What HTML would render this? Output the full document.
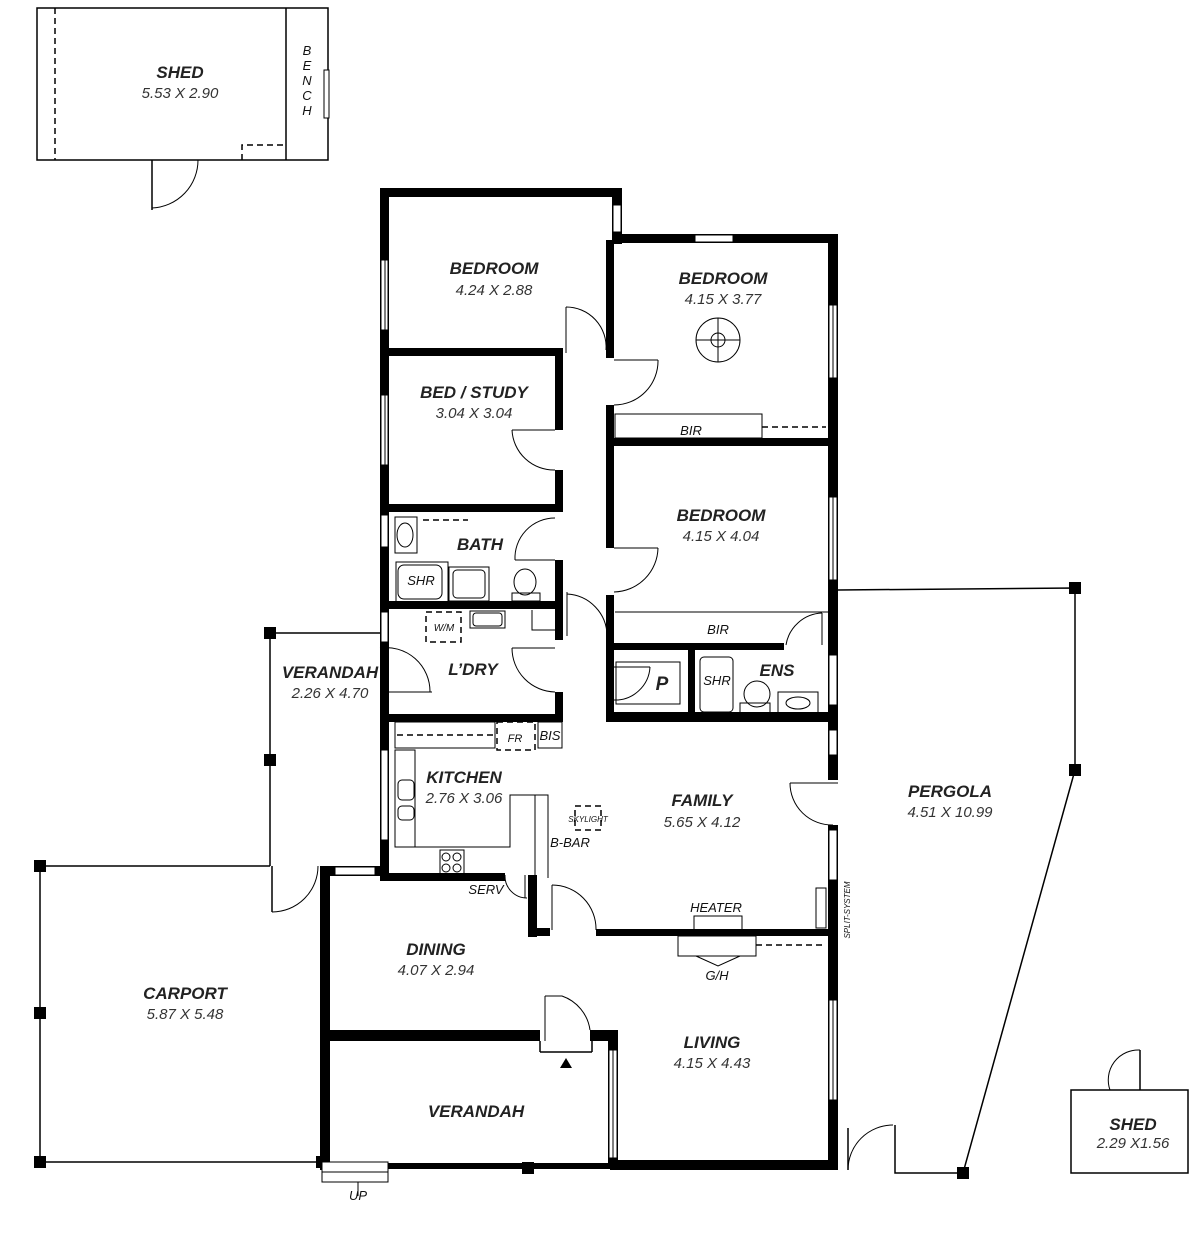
<!DOCTYPE html>
<html><head><meta charset="utf-8"><style>
html,body{margin:0;padding:0;background:#fff;}
svg{display:block}
.t{font-family:"Liberation Sans",sans-serif;font-weight:bold;font-style:italic;font-size:17px;fill:#222;text-anchor:middle}
.d{font-family:"Liberation Sans",sans-serif;font-style:italic;font-size:15px;fill:#333;text-anchor:middle}
.s{font-family:"Liberation Sans",sans-serif;font-style:italic;font-size:13px;fill:#111;text-anchor:middle}
.w{fill:#000}
.win{fill:#fff;stroke:#000;stroke-width:1}
.ln{stroke:#000;stroke-width:1.5;fill:none}
.th{stroke:#000;stroke-width:1;fill:none}
.ds{stroke:#000;stroke-width:1.5;fill:none;stroke-dasharray:6 4}
</style></head><body>
<svg width="1200" height="1241" viewBox="0 0 1200 1241" xmlns="http://www.w3.org/2000/svg">
<!-- SHED top -->
<rect x="37" y="8" width="291" height="152" class="ln" stroke-width="2"/>
<line x1="55" y1="8" x2="55" y2="160" class="ds"/>
<line x1="286" y1="8" x2="286" y2="160" class="ln"/>
<rect x="324" y="70" width="5" height="48" class="win"/>
<polyline points="242,160 242,145 286,145" class="ds"/>
<line x1="152" y1="160" x2="152" y2="210" class="ln"/>
<path d="M152,208 A48,48 0 0 0 198,160" class="th"/>
<text class="t" x="180" y="78">SHED</text>
<text class="d" x="180" y="98">5.53 X 2.90</text>
<text class="s" x="307" y="55">B</text><text class="s" x="307" y="70">E</text><text class="s" x="307" y="85">N</text><text class="s" x="307" y="100">C</text><text class="s" x="307" y="115">H</text>

<!-- outdoor lines -->
<polyline points="40,866 40,1162 322,1162" class="ln"/>
<line x1="40" y1="866" x2="270" y2="866" class="ln"/>
<polyline points="380,633 270,633 270,866" class="ln"/>
<line x1="272" y1="866" x2="272" y2="912" class="ln"/>
<path d="M272,912 A46,46 0 0 0 318,866" class="th"/>
<polyline points="838,590 1075,588 1075,770 963,1173 895,1173 895,1125" class="ln"/>
<line x1="848" y1="1170" x2="848" y2="1128" class="ln"/>
<path d="M848,1170 A45,45 0 0 1 893,1125" class="th"/>
<g class="w">
<rect x="34" y="860" width="12" height="12"/><rect x="34" y="1007" width="12" height="12"/><rect x="34" y="1156" width="12" height="12"/>
<rect x="316" y="1156" width="12" height="12"/><rect x="264" y="627" width="12" height="12"/><rect x="264" y="754" width="12" height="12"/>
<rect x="1069" y="582" width="12" height="12"/><rect x="1069" y="764" width="12" height="12"/><rect x="957" y="1167" width="12" height="12"/>
<rect x="522" y="1162" width="12" height="12"/>
</g>
<!-- small shed -->
<rect x="1071" y="1090" width="117" height="83" class="ln"/>
<line x1="1140" y1="1090" x2="1140" y2="1050" class="ln"/>
<path d="M1140,1050 A30,30 0 0 0 1110,1090" class="th"/>
<text class="t" x="1133" y="1130">SHED</text>
<text class="d" x="1133" y="1148">2.29 X1.56</text>

<!-- WALLS -->
<g class="w">
<rect x="380" y="188" width="9" height="692"/>
<rect x="380" y="188" width="242" height="9"/>
<rect x="612" y="188" width="10" height="56"/>
<rect x="612" y="234" width="226" height="9"/>
<rect x="828" y="234" width="10" height="546"/>
<rect x="606" y="240" width="8" height="118"/>
<rect x="606" y="405" width="8" height="143"/>
<rect x="606" y="595" width="8" height="125"/>
<rect x="614" y="438" width="224" height="8"/>
<rect x="614" y="643" width="170" height="7"/>
<rect x="606" y="712" width="232" height="10"/>
<rect x="688" y="650" width="7" height="70"/>
<rect x="388" y="348" width="175" height="8"/>
<rect x="555" y="348" width="8" height="82"/>
<rect x="555" y="470" width="8" height="42"/>
<rect x="388" y="504" width="175" height="8"/>
<rect x="555" y="560" width="8" height="48"/>
<rect x="388" y="601" width="175" height="8"/>
<rect x="555" y="585" width="8" height="55"/>
<rect x="555" y="692" width="8" height="30"/>
<rect x="388" y="714" width="175" height="8"/>
<rect x="380" y="873" width="125" height="8"/>
<rect x="528" y="875" width="9" height="62"/>
<rect x="528" y="928" width="22" height="8"/>
<rect x="596" y="929" width="232" height="7"/>
<rect x="828" y="825" width="10" height="345"/>
<rect x="610" y="1160" width="228" height="10"/>
<rect x="608" y="1030" width="10" height="135"/>
<rect x="320" y="866" width="60" height="10"/>
<rect x="320" y="866" width="10" height="304"/>
<rect x="330" y="1030" width="210" height="11"/>
<rect x="590" y="1030" width="28" height="11"/>
<rect x="330" y="1163" width="280" height="6"/>
</g>
<!-- windows -->
<g class="win">
<rect x="381" y="260" width="7" height="70"/><rect x="381" y="395" width="7" height="70"/><rect x="381" y="515" width="7" height="32"/>
<rect x="381" y="612" width="7" height="30"/><rect x="381" y="750" width="7" height="90"/>
<rect x="613" y="205" width="8" height="27"/><rect x="695" y="235" width="38" height="7"/>
<rect x="829" y="305" width="8" height="73"/><rect x="829" y="497" width="8" height="83"/><rect x="829" y="655" width="8" height="50"/><rect x="829" y="730" width="8" height="25"/>
<rect x="829" y="830" width="8" height="50"/><rect x="829" y="1000" width="8" height="100"/>
<rect x="335" y="867" width="40" height="8"/>
<rect x="609" y="1050" width="8" height="108"/>
<rect x="322" y="1162" width="66" height="20"/>
</g>
<line x1="385" y1="260" x2="385" y2="330" class="th"/><line x1="385" y1="395" x2="385" y2="465" class="th"/><line x1="833" y1="305" x2="833" y2="378" class="th"/><line x1="833" y1="497" x2="833" y2="580" class="th"/><line x1="833" y1="1000" x2="833" y2="1100" class="th"/><line x1="613" y1="1050" x2="613" y2="1158" class="th"/>
<line x1="322" y1="1172" x2="388" y2="1172" class="th"/>
<line x1="358" y1="1182" x2="358" y2="1196" class="th"/>
<text class="s" x="358" y="1200">UP</text>

<!-- doors -->
<g class="th">
<line x1="566" y1="307" x2="566" y2="353"/><path d="M566,307 A40,40 0 0 1 606,350"/>
<line x1="614" y1="360" x2="658" y2="360"/><path d="M658,360 A44,44 0 0 1 614,405"/>
<line x1="512" y1="430" x2="555" y2="430"/><path d="M512,430 A42,42 0 0 0 555,470"/>
<line x1="515" y1="560" x2="555" y2="560"/><path d="M515,560 A40,40 0 0 1 555,518"/>
<line x1="614" y1="548" x2="658" y2="548"/><path d="M658,548 A45,45 0 0 1 614,592"/>
<line x1="567" y1="592" x2="567" y2="636"/><path d="M567,594 A42,42 0 0 1 607,636"/>
<line x1="512" y1="648" x2="555" y2="648"/><path d="M512,648 A44,44 0 0 0 555,692"/>
<line x1="380" y1="692" x2="432" y2="692"/><path d="M380,648 A44,44 0 0 1 430,692"/>
<line x1="614" y1="667" x2="650" y2="667"/><path d="M650,667 A35,35 0 0 1 614,700"/>
<line x1="822" y1="613" x2="822" y2="645"/><path d="M822,613 A38,38 0 0 0 786,645"/>
<line x1="790" y1="783" x2="838" y2="783"/><path d="M790,783 A42,42 0 0 0 833,825"/>
<line x1="552" y1="885" x2="552" y2="930"/><path d="M552,885 A44,44 0 0 1 596,930"/>
<line x1="525" y1="875" x2="525" y2="898"/><path d="M505,875 A22,22 0 0 0 527,898"/>
<path d="M545,996 L545,1041 M545,996 L562,996 A42,42 0 0 1 590,1030"/>
</g>
<line x1="540" y1="1052" x2="592" y2="1052" class="ln"/>
<line x1="540" y1="1041" x2="540" y2="1052" class="ln"/><line x1="592" y1="1041" x2="592" y2="1052" class="ln"/>
<polygon points="566,1058 560,1068 572,1068" fill="#000"/>

<!-- fixtures -->
<g class="th">
<rect x="615" y="414" width="147" height="24"/><line x1="762" y1="414" x2="762" y2="438"/>
<line x1="615" y1="612" x2="828" y2="612"/>
<rect x="616" y="662" width="64" height="42"/>
<rect x="700" y="657" width="33" height="55" rx="4"/>
<rect x="740" y="703" width="30" height="10"/><ellipse cx="757" cy="694" rx="13" ry="13"/>
<rect x="778" y="692" width="40" height="22"/><ellipse cx="798" cy="703" rx="12" ry="6"/>
<rect x="395" y="517" width="22" height="36"/><ellipse cx="405" cy="535" rx="8" ry="12"/>
<rect x="396" y="562" width="52" height="40"/><rect x="398" y="565" width="44" height="34" rx="6"/>
<rect x="449" y="567" width="40" height="34"/><rect x="453" y="570" width="32" height="28" rx="4"/>
<rect x="512" y="593" width="28" height="8"/><ellipse cx="525" cy="582" rx="11" ry="13"/>
<rect x="470" y="611" width="35" height="17"/><rect x="473" y="613" width="29" height="13" rx="3"/>
<polyline points="532,610 532,630 555,630"/>
<rect x="395" y="722" width="100" height="26"/>
<rect x="538" y="722" width="24" height="26"/>
<rect x="395" y="750" width="20" height="97"/>
<rect x="398" y="780" width="16" height="20" rx="4"/><rect x="398" y="806" width="16" height="14" rx="4"/>
<polyline points="395,847 510,847 510,795 548,795 548,878"/>
<line x1="535" y1="795" x2="535" y2="878"/>
<rect x="440" y="850" width="24" height="25"/>
<circle cx="446" cy="857" r="4"/><circle cx="457" cy="857" r="4"/><circle cx="446" cy="868" r="4"/><circle cx="457" cy="868" r="4"/>
<rect x="678" y="936" width="78" height="20"/>
<rect x="694" y="916" width="48" height="20"/>
<rect x="816" y="888" width="10" height="40"/>
<circle cx="718" cy="340" r="22"/><circle cx="718" cy="340" r="7"/>
<line x1="718" y1="318" x2="718" y2="362"/><line x1="696" y1="340" x2="740" y2="340"/>
</g>
<polygon points="696,956 740,956 718,966" fill="none" stroke="#000"/>
<g class="ds" stroke-width="1.3">
<line x1="423" y1="520" x2="468" y2="520"/>
<rect x="426" y="612" width="35" height="30"/>
<line x1="397" y1="735" x2="493" y2="735"/>
<rect x="497" y="722" width="38" height="28"/>
<rect x="575" y="806" width="26" height="24"/>
<line x1="762" y1="427" x2="826" y2="427"/>
<line x1="756" y1="945" x2="826" y2="945"/>
</g>

<!-- labels -->
<text class="t" x="494" y="274">BEDROOM</text><text class="d" x="494" y="295">4.24 X 2.88</text>
<text class="t" x="723" y="284">BEDROOM</text><text class="d" x="723" y="304">4.15 X 3.77</text>
<text class="t" x="474" y="398">BED / STUDY</text><text class="d" x="474" y="418">3.04 X 3.04</text>
<text class="t" x="721" y="521">BEDROOM</text><text class="d" x="721" y="541">4.15 X 4.04</text>
<text class="t" x="480" y="550">BATH</text>
<text class="t" x="473" y="675">L’DRY</text>
<text class="t" x="777" y="676">ENS</text>
<text class="t" x="662" y="690" style="font-size:19px">P</text>
<text class="t" x="330" y="678">VERANDAH</text><text class="d" x="330" y="698">2.26 X 4.70</text>
<text class="t" x="464" y="783">KITCHEN</text><text class="d" x="464" y="803">2.76 X 3.06</text>
<text class="t" x="702" y="806">FAMILY</text><text class="d" x="702" y="827">5.65 X 4.12</text>
<text class="t" x="950" y="797">PERGOLA</text><text class="d" x="950" y="817">4.51 X 10.99</text>
<text class="t" x="436" y="955">DINING</text><text class="d" x="436" y="975">4.07 X 2.94</text>
<text class="t" x="185" y="999">CARPORT</text><text class="d" x="185" y="1019">5.87 X 5.48</text>
<text class="t" x="712" y="1048">LIVING</text><text class="d" x="712" y="1068">4.15 X 4.43</text>
<text class="t" x="476" y="1117">VERANDAH</text>
<text class="s" x="691" y="435">BIR</text>
<text class="s" x="718" y="634">BIR</text>
<text class="s" x="421" y="585">SHR</text>
<text class="s" x="717" y="685">SHR</text>
<text class="s" x="444" y="631" style="font-size:10px">W/M</text>
<text class="s" x="515" y="742" style="font-size:11px">FR</text>
<text class="s" x="550" y="740">BIS</text>
<text class="s" x="588" y="822" style="font-size:8px">SKYLIGHT</text>
<text class="s" x="570" y="847">B-BAR</text>
<text class="s" x="486" y="894">SERV</text>
<text class="s" x="716" y="912">HEATER</text>
<text class="s" x="717" y="980">G/H</text>
<text class="s" x="0" y="0" transform="translate(850,910) rotate(-90)" style="font-size:8px">SPLIT-SYSTEM</text>
</svg>
</body></html>
